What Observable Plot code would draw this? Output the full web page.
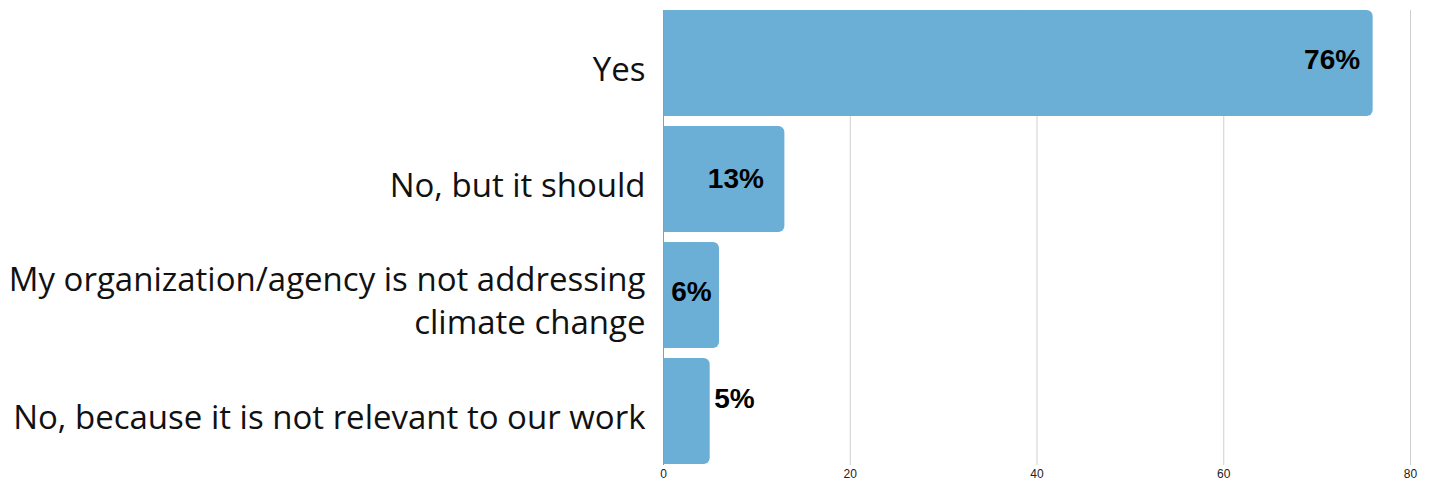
<!DOCTYPE html>
<html>
<head>
<meta charset="utf-8">
<script src="https://cdn.jsdelivr.net/npm/d3@7"></script>
<script src="https://cdn.jsdelivr.net/npm/@observablehq/plot@0.6"></script>
<style>
  html, body { margin: 0; padding: 0; background: #fff; }
</style>
</head>
<body>
<div id="chart"></div>
<script>
const categories = [
  "Yes",
  "No, but it should",
  "My organization/agency is not addressing\nclimate change",
  "No, because it is not relevant to our work"
];
const values = [76, 13, 6, 5];
const xTicks = [0, 20, 40, 60, 80];

const data = categories.map((c, i) => ({category: c, value: values[i], label: values[i] + "%"}));

const barColor = "#6BAFD6";
const labelFont = {fontSize: 28, fontWeight: "bold", fill: "#000", fontFamily: "Liberation Sans, Arial, sans-serif"};

const chart = Plot.plot({
  width: 1429,
  height: 485,
  marginLeft: 663,
  marginRight: 19,
  marginTop: 10,
  marginBottom: 20,
  style: {background: "#fff"},
  x: {domain: [0, 80], ticks: xTicks},
  y: {domain: categories, paddingInner: 0.086, paddingOuter: 0},
  marks: [
    Plot.gridX(xTicks.filter(t => t > 0), {stroke: "#cfcfcf", strokeOpacity: 1, strokeWidth: 1}),
    // rounded bar
    Plot.barX(data, {x: "value", y: "category", fill: barColor, rx: 6}),
    // square left half, so only the right end is rounded
    Plot.barX(data, {x1: 0, x2: d => d.value / 2, y: "category", fill: barColor}),
    Plot.ruleX([0], {stroke: "#9a9a9a", strokeWidth: 1}),
    Plot.axisX({ticks: xTicks, tickSize: 0, tickPadding: 4, fontSize: 12, fill: "#222", fontFamily: "Liberation Sans, Arial, sans-serif", label: null}),
    Plot.axisY({tickSize: 0, tickPadding: 18, fontSize: 33, fill: "#111", fontFamily: "Open Sans, sans-serif", lineHeight: 1.33, label: null, dy: 3}),
    Plot.text(data.filter(d => d.value >= 50), {x: "value", y: "category", text: "label", textAnchor: "end", dx: -13, dy: -3, ...labelFont}),
    Plot.text(data.filter(d => d.value >= 10 && d.value < 50), {x: "value", y: "category", text: "label", textAnchor: "end", dx: -21, dy: 0, ...labelFont}),
    Plot.text(data.filter(d => d.value > 5.5 && d.value < 10), {x: d => d.value / 2, y: "category", text: "label", textAnchor: "middle", dy: -3, ...labelFont}),
    Plot.text(data.filter(d => d.value <= 5.5), {x: "value", y: "category", text: "label", textAnchor: "start", dx: 4, dy: -12, ...labelFont})
  ]
});
document.getElementById("chart").appendChild(chart);
</script>
</body>
</html>
